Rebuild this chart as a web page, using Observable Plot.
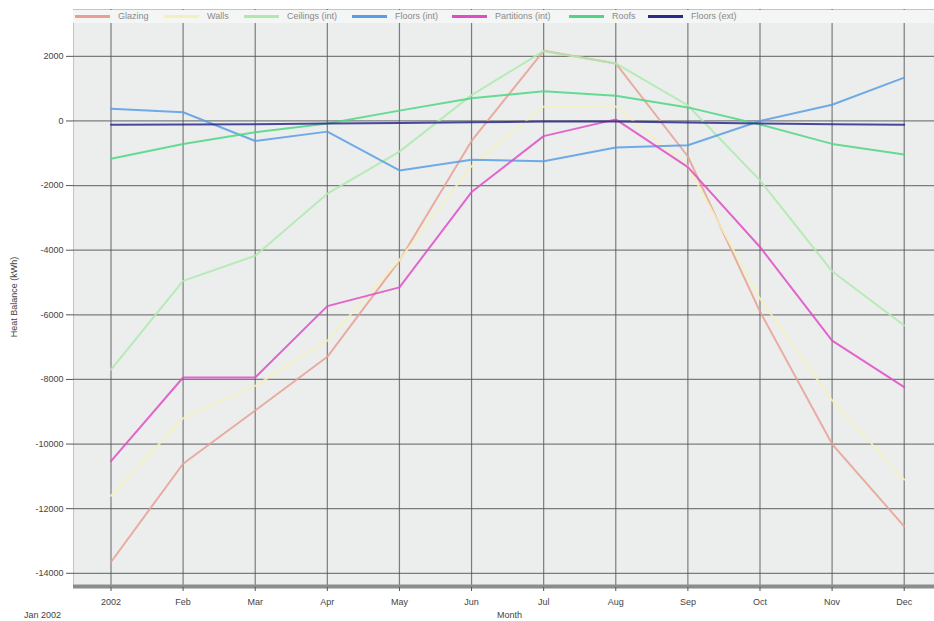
<!DOCTYPE html>
<html><head><meta charset="utf-8">
<script src="https://cdn.jsdelivr.net/npm/d3@7"></script>
<script src="https://cdn.jsdelivr.net/npm/@observablehq/plot@0.6"></script>
<style>
body{margin:0;background:#fff;font-family:"Liberation Sans",Arial,sans-serif;}
#wrap{position:relative;width:934px;height:621px;overflow:hidden;}
#legend{position:absolute;left:73px;top:10px;width:861px;height:13px;background:#f4f5f5;}
.item{position:absolute;top:0;height:13px;font-size:9px;color:#8a8a8a;line-height:13px;white-space:nowrap;}
.sw{position:absolute;top:5px;width:35px;height:3px;}
.lab{position:absolute;font-size:9px;color:#444;white-space:nowrap;}
</style></head>
<body><div id="wrap"></div>
<script>
const months = ["2002","Feb","Mar","Apr","May","Jun","Jul","Aug","Sep","Oct","Nov","Dec"];
const yTicks = [2000,0,-2000,-4000,-6000,-8000,-10000,-12000,-14000];
const seriesNames = ["Glazing","Walls","Ceilings (int)","Floors (int)","Partitions (int)","Roofs","Floors (ext)"];
const seriesColors = ["#e8a092","#f4f0bc","#aeeaab","#5a9de4","#e04cc6","#4fd683","#2a2a8a"];
const legendLeft = [0, 89, 169, 277, 377, 494, 573];

const glazing    = [-13650,-10610,-8960,-7300,-4320,-620,2170,1780,-1100,-5900,-10000,-12550];
const walls      = [-11600,-9200,-8200,-6800,-4300,-1400,450,450,-1400,-5500,-8650,-11100];
const ceilings   = [-7700,-4950,-4170,-2250,-950,800,2160,1780,480,-1840,-4650,-6330];
const floorsInt  = [380,270,-620,-330,-1530,-1200,-1250,-820,-750,0,500,1340];
const partitions = [-10530,-7940,-7940,-5730,-5150,-2200,-470,50,-1430,-3900,-6800,-8240];
const roofs      = [-1170,-710,-350,-80,320,700,920,780,420,-110,-710,-1040];
const floorsExt  = [-120,-110,-100,-80,-60,-40,-20,-20,-50,-80,-100,-120];

const allSeries = [glazing, walls, ceilings, floorsInt, partitions, roofs, floorsExt];
const rows = [];
allSeries.forEach((vals, s) => vals.forEach((v, i) => rows.push({series: seriesNames[s], m: i, v})));

const yDomain = [-14440, 3450];
const monthIdx = d3.range(12);

const chart = Plot.plot({
  width: 934, height: 621,
  marginLeft: 73, marginRight: 0, marginTop: 9, marginBottom: 34,
  style: {background: "#fff", fontFamily: "'Liberation Sans', Arial, sans-serif", fontSize: "9px", color: "#444"},
  x: {domain: [-0.52, 11.42], label: null},
  y: {domain: yDomain, label: null},
  color: {domain: seriesNames, range: seriesColors},
  marks: [
    Plot.frame({fill: "#eceeee", stroke: "#c4c4c4"}),
    Plot.gridY(yTicks, {stroke: "#555", strokeOpacity: 0.75, strokeWidth: 1.2}),
    Plot.gridX(monthIdx, {stroke: "#555", strokeOpacity: 0.75, strokeWidth: 1.2}),
    Plot.line(rows, {x: "m", y: "v", z: "series", stroke: "series", strokeWidth: 2, strokeOpacity: 0.85}),
    Plot.ruleY([yDomain[0]], {stroke: "#8c8c8c", strokeWidth: 4, dy: -1}),
    Plot.axisY(yTicks, {tickFormat: d => String(d), tickSize: 7, tickPadding: 3, stroke: "#555", fill: "#444", label: null}),
    Plot.axisX(monthIdx, {tickFormat: i => months[i], tickSize: 4, tickPadding: 7, stroke: "#555", fill: "#444", label: null})
  ]
});
const wrap = document.getElementById("wrap");
wrap.appendChild(chart);

const legend = document.createElement("div");
legend.id = "legend";
seriesNames.forEach((n, i) => {
  const it = document.createElement("div");
  it.className = "item";
  it.style.left = legendLeft[i] + "px";
  const sw = document.createElement("div");
  sw.className = "sw";
  sw.style.left = "2px";
  sw.style.background = seriesColors[i];
  it.appendChild(sw);
  const t = document.createElement("span");
  t.textContent = n;
  t.style.position = "absolute";
  t.style.left = "45px";
  it.appendChild(t);
  legend.appendChild(it);
});
wrap.appendChild(legend);

function addLabel(text, css){
  const d = document.createElement("div");
  d.className = "lab";
  d.textContent = text;
  Object.assign(d.style, css);
  wrap.appendChild(d);
}
addLabel("Month", {left: "497px", top: "610px"});
addLabel("Jan 2002", {left: "24px", top: "610px"});
addLabel("Heat Balance (kWh)", {left: "-31px", top: "292px", transform: "rotate(-90deg)", width: "90px", textAlign: "center"});
</script>
</body></html>
